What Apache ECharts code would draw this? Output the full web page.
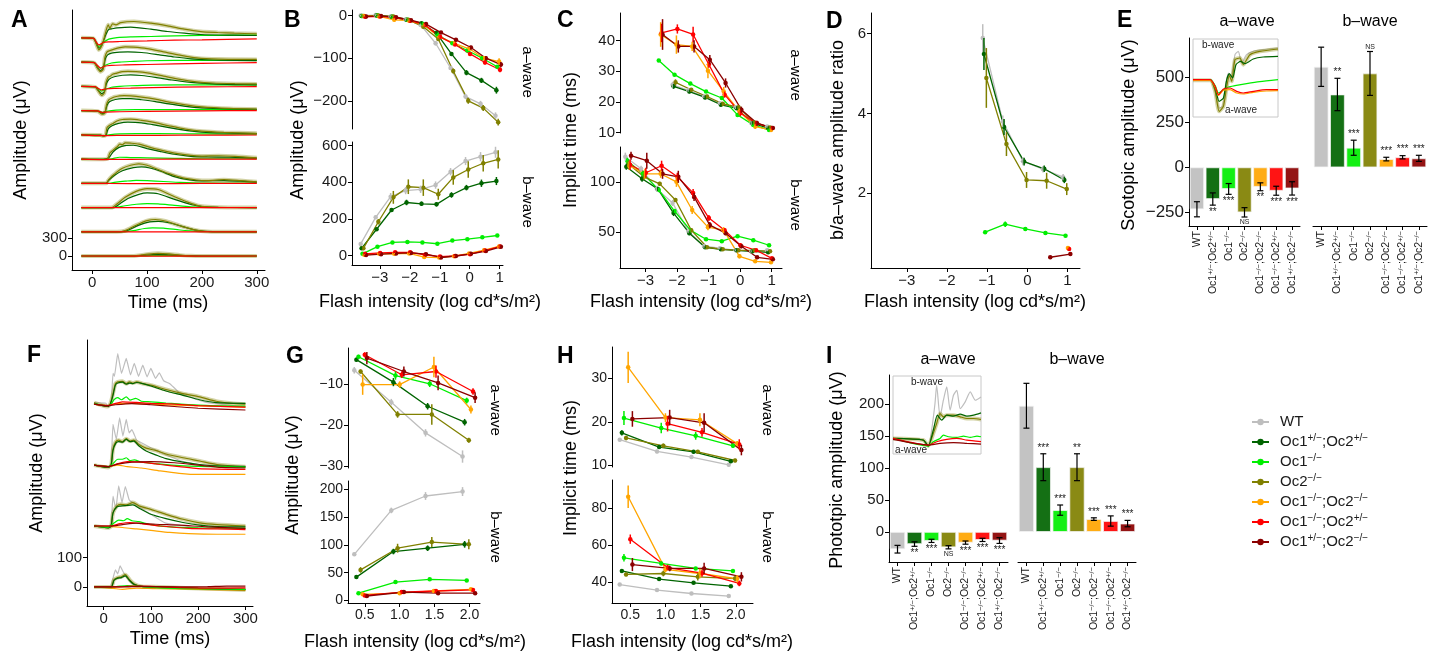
<!DOCTYPE html>
<html><head><meta charset="utf-8">
<script src="https://cdn.jsdelivr.net/npm/echarts@6/dist/echarts.min.js"></script>
<style>html,body{margin:0;padding:0;background:#fff}#c{width:1432px;height:657px}</style>
</head><body><div id="c"></div>
<script>
// ================= DATA =================
const GENOTYPES = ['WT','Oc1+/-;Oc2+/-','Oc1-/-','Oc2-/-','Oc1-/-;Oc2-/-','Oc1-/-;Oc2+/-','Oc1+/-;Oc2-/-'];

// Scotopic flash intensities (log cd*s/m2)
const SCOT_X = [-3.55,-3.05,-2.55,-2.05,-1.55,-1.05,-0.55,-0.05,0.45,0.95];
// B: scotopic amplitudes (uV), one row per genotype
const B_AWAVE = [
  [0,1,-2,-9,-22,-65,-123,-190,-207,-235],
  [-1,0,-3,-10,-18,-41,-90,-134,-152,-175],
  [-1,0,-3,-10,-20,-45,-65,-82,-100,-120],
  [-1,0,-2,-10,-26,-55,-130,-200,-217,-250],
  [-1,-2,-10,-12,-22,-50,-65,-78,-100,-108],
  [-3,-2,-5,-12,-22,-50,-68,-90,-110,-127],
  [-2,-1,-4,-11,-20,-40,-57,-75,-100,-115]
];
const B_AWAVE_SE = [
  [2,2,2,3,3,5,5,6,7,8],[1,1,2,2,3,3,4,6,6,8],[1,1,2,2,2,3,3,3,4,4],[2,2,2,3,4,4,6,7,7,8],
  [2,2,4,3,3,3,3,4,5,8],[2,2,2,3,3,3,3,4,5,6],[2,2,2,3,3,3,4,4,5,6]
];
const B_BWAVE = [
  [64,209,322,355,362,385,458,516,540,564],
  [40,144,249,290,283,280,331,371,395,407],
  [10,49,72,75,72,65,82,90,100,110],
  [40,185,318,376,371,335,427,470,504,525],
  [5,10,10,12,-8,-10,-3,12,30,50],
  [10,15,18,18,5,-5,-2,8,28,50],
  [3,8,12,15,8,-10,-2,10,25,48]
];
const B_BWAVE_SE = [
  [10,10,20,20,20,20,20,22,25,30],[8,8,10,15,12,12,15,15,20,22],[3,4,5,5,4,5,5,5,6,6],[10,15,35,40,45,30,40,45,45,50],
  [3,3,4,4,4,4,4,4,5,5],[4,4,4,4,4,4,4,4,5,6],[3,3,4,4,4,4,4,4,5,6]
];
// C: implicit times (ms)
const C_AWAVE = [
  [null,null,null,25.6,23.8,21.8,19.6,18.3,13.1,12],
  [null,null,null,25.1,23.4,21.5,19.1,18,13.1,11.5],
  [null,null,33.5,28.9,26,23.4,21.3,15.8,12.5,10.9],
  [null,null,null,26.4,24,21.8,19.4,18.3,13.3,11.7],
  [null,null,42,38.7,38.1,30.2,23.4,16.9,12,10.9],
  [null,null,42.5,43.8,42,32.2,22.4,16.4,13.1,11.5],
  [null,null,42,38.1,38.1,33.8,26.2,17.5,13.1,11.5]
];
const C_AWAVE_SE = [
  [0,0,0,1,0.5,0.5,0.5,0.6,0.6,0.5],[0,0,0,0.8,0.6,0.6,0.6,0.6,0.6,0.5],[0,0,0.4,0.5,0.5,0.5,0.5,0.6,0.5,0.5],
  [0,0,0,1,0.6,0.6,0.6,0.6,0.6,0.5],[0,0,4,3,1.5,2.5,1.5,1,0.8,0.5],[0,0,3,1.5,2.5,1,1,1,0.8,0.5],[0,0,5,2,2,1.5,1.5,1,0.8,0.5]
];
const C_BWAVE = [
  [125,113,93,79,51,36,34,32,31,32],
  [115,103,93,69,49,35,33,32,31,30],
  [121,108,92,71,52,43,41,46,42,37],
  [118,105,98,82,52,35,33,32,32,31],
  [116,108,108,100,72,55,52,26,21,20],
  [117,109,116,105,89,64,52,37,32,24],
  [126,121,108,105,85,57,49,36,25,23]
];
const C_BWAVE_SE = [
  [4,3,3,3,2,2,1,1,1,1],[3,3,2,3,2,1,1,1,1,1],[3,3,2,2,2,1,1,1,1,1],[3,3,2,2,2,1,1,1,1,1],
  [4,5,4,5,4,3,3,2,1,1],[5,5,5,4,4,3,2,2,1,1],[4,8,5,6,4,3,2,2,1,1]
];
// D: b/a-wave ratio
const D_X = [-1.02,-0.52,-0.02,0.48,0.98];
const D_RATIO = [
  [5.89,3.8,2.8,2.6,2.4],[5.49,3.66,2.79,2.61,2.33],[1.02,1.22,1.1,1.0,0.93],[4.89,3.23,2.33,2.31,2.1],
  [null,null,null,null,0.62],[null,null,null,null,0.6],[null,null,null,0.39,0.47]
];
const D_SE = [
  [0.35,0.15,0.1,0.08,0.08],[0.4,0.2,0.1,0.08,0.08],[0.04,0.07,0.04,0.05,0.04],[0.75,0.3,0.2,0.2,0.15],
  [0,0,0,0,0.03],[0,0,0,0,0.03],[0,0,0,0.02,0.03]
];
// E: scotopic bars
const E_AWAVE = [-233,-176,-120,-250,-108,-130,-117];
const E_AWAVE_SE = [42,34,30,26,22,25,37];
const E_AWAVE_SIG = ['','**','***','NS','**','***','***'];
const E_BWAVE = [559,405,109,522,46,56,50];
const E_BWAVE_SE = [109,90,42,122,10,9,17];
const E_BWAVE_SIG = ['','**','***','NS','***','***','***'];
// Photopic intensities
const PHOT_X = [0.44,0.97,1.46,1.99];
const G_AWAVE = [
  [-6.5,-14.3,-21.8,-27.6],[-3.9,-9.4,-15.3,-19.2],[-3.2,-7.8,-9.8,-13.9],[-6.8,-17.3,-17.3,-23.6],
  [-10,-10,-5.7,-16.1],[-2.7,-7.6,-6.8,-11.7],[-3.5,-6.8,-9.6,-13.2]
];
const G_AWAVE_SE = [
  [0.8,0.8,0.9,1.5],[0.5,1,0.8,0.8],[0.5,1,0.8,0.7],[0.5,0.8,2.5,0.6],[2.5,0.8,2.5,1],[0.6,0.8,1.5,0.8],[1.5,1.2,1.8,1.3]
];
const G_BWAVE = [
  [83,162,188,196],[42,88,94,101],[13,33,38,36],[55,94,105,101],[11,13,17,20],[9,15,17,19],[8,15,13,13]
];
const G_BWAVE_SE = [
  [3,5,7,8],[3,5,5,6],[2,3,2,2],[5,8,9,9],[2,2,2,2],[2,2,2,2],[2,2,2,2]
];
const H_AWAVE = [
  [15.9,13.2,11.9,10.1],[17.5,14.2,13.1,10.9],[20.9,18.6,16.8,14.5],[16.3,14.5,13.1,11.1],
  [32.6,21,20.5,15],[null,19.6,17.6,14.8],[20.7,21,19.8,13.5]
];
const H_AWAVE_SE = [
  [0.4,0.4,0.4,0.4],[0.6,0.4,0.4,0.4],[1.6,1.2,0.9,0.5],[0.5,0.5,0.4,0.4],[3.6,1,1.5,0.6],[0,1.8,1,1.2],[1.8,1.8,2.2,1.2]
];
const H_BWAVE = [
  [38.9,35.9,34.1,32.7],[46.2,41.8,39.8,38],[53.2,50.2,47.5,46.2],[44.3,44.8,43,42.1],
  [85.9,47,44.8,42],[63.2,48,45,39.5],[49.6,47.5,47.5,43]
];
const H_BWAVE_SE = [
  [0.5,0.5,0.5,0.5],[0.6,0.6,0.5,0.5],[2,1,0.8,0.8],[1,1.5,2,1.5],[6,1.5,2.5,2],[2.5,1.5,2,1.5],[3.5,1.5,3,2.5]
];
// I: photopic bars
const I_AWAVE = [-27,-19,-14,-24,-16.7,-12.5,-13.5];
const I_AWAVE_SE = [6,3.5,2.5,2.5,2.5,2.5,4.5];
const I_AWAVE_SIG = ['','**','***','NS','***','***','***'];
const I_BWAVE = [197,101,34,101,20,17,13];
const I_BWAVE_SE = [35,21,8,21,2,8,5];
const I_BWAVE_SIG = ['','***','***','**','***','***','***'];

// A: scotopic ERG traces [ms, uV], dimmest (index 0) to brightest
const A_OLIVE = [
 [[-20,0],[60,0],[80,5],[100,30],[120,45],[140,35],[160,15],[180,3],[200,0],[300,0]],
 [[-20,0],[45,0],[60,20],[80,110],[100,185],[115,205],[135,175],[160,100],[185,35],[210,5],[250,0],[300,0]],
 [[-20,0],[35,0],[45,60],[60,170],[80,270],[100,315],[120,300],[150,180],[180,70],[200,20],[230,5],[300,0]],
 [[-20,0],[25,0],[30,60],[35,110],[40,150],[45,190],[55,250],[70,300],[85,325],[100,300],[120,230],[140,160],[165,90],[190,55],[210,45],[240,60],[270,45],[300,25]],
 [[-20,0],[20,-5],[28,5],[32,100],[37,140],[42,180],[46,210],[50,250],[55,240],[60,270],[70,265],[85,250],[100,210],[120,160],[150,100],[180,60],[200,50],[230,55],[260,45],[300,20]],
 [[-20,0],[15,-5],[20,-20],[24,-10],[27,120],[32,160],[38,190],[45,230],[55,255],[70,260],[90,240],[110,210],[140,150],[170,95],[200,60],[240,40],[300,25]],
 [[-20,0],[10,-10],[18,-60],[23,-40],[26,100],[30,180],[36,210],[42,230],[50,245],[58,250],[70,245],[90,225],[115,190],[140,140],[170,95],[200,60],[250,35],[300,25]],
 [[-20,0],[5,-10],[12,-90],[17,-150],[22,-110],[25,60],[29,150],[33,170],[37,200],[45,220],[55,245],[65,250],[80,245],[100,225],[130,170],[160,115],[190,75],[220,55],[260,45],[300,40]],
 [[-20,0],[3,-10],[10,-110],[15,-160],[20,-120],[23,80],[27,170],[32,190],[40,215],[50,240],[60,255],[75,250],[100,225],[130,170],[160,115],[190,70],[230,50],[300,44]],
 [[-20,0],[2,-10],[8,-120],[12,-200],[18,-117],[24,80],[29,217],[32,161],[37,233],[43,217],[52,255],[76,272],[107,244],[137,200],[168,144],[198,105],[229,89],[259,78],[300,67]]
];
const A_DKGREEN = [
 [[-20,0],[70,0],[90,10],[110,25],[125,28],[145,18],[170,5],[200,0],[300,0]],
 [[-20,0],[50,0],[65,25],[85,110],[105,165],[120,175],[140,150],[165,85],[190,25],[220,2],[300,0]],
 [[-20,0],[38,0],[50,60],[65,150],[85,220],[100,244],[120,230],[150,135],[180,50],[200,15],[230,3],[300,0]],
 [[-20,0],[25,0],[30,50],[40,130],[55,210],[75,260],[90,272],[105,255],[125,200],[150,110],[175,60],[200,40],[240,45],[270,35],[300,20]],
 [[-20,0],[20,-5],[30,20],[38,120],[48,190],[60,225],[75,230],[100,175],[125,125],[150,80],[180,45],[210,35],[250,30],[300,15]],
 [[-20,0],[15,-5],[20,-18],[25,-5],[29,100],[36,150],[48,190],[65,210],[90,200],[110,170],[140,120],[170,75],[200,45],[240,30],[300,20]],
 [[-20,0],[10,-8],[18,-50],[23,-35],[27,90],[32,150],[42,185],[55,200],[70,200],[90,180],[115,150],[140,110],[170,70],[200,45],[250,28],[300,20]],
 [[-20,0],[5,-8],[12,-80],[17,-120],[22,-90],[26,50],[31,120],[40,160],[55,185],[70,190],[90,180],[115,150],[145,105],[180,65],[220,40],[260,30],[300,25]],
 [[-20,0],[3,-8],[10,-100],[15,-140],[20,-100],[24,60],[28,120],[35,150],[50,165],[65,170],[90,160],[120,125],[150,85],[180,55],[220,35],[300,25]],
 [[-20,0],[2,-8],[8,-110],[12,-172],[18,-110],[25,60],[30,140],[35,150],[45,165],[70,178],[107,144],[137,106],[168,78],[198,56],[260,44],[300,39]]
];
const A_LGREEN = [
 [[-20,0],[80,0],[110,8],[130,8],[160,3],[200,0],[300,0]],
 [[-20,0],[55,0],[75,20],[95,55],[110,65],[130,60],[160,30],[190,8],[220,0],[300,0]],
 [[-20,0],[40,0],[60,30],[80,55],[100,65],[120,60],[150,35],[180,12],[210,2],[300,0]],
 [[-20,0],[28,0],[40,15],[60,35],[80,50],[100,45],[130,30],[160,15],[200,5],[300,5]],
 [[-20,0],[22,-5],[35,5],[50,30],[70,25],[100,20],[150,12],[200,5],[300,5]],
 [[-20,0],[20,-15],[30,0],[50,15],[80,20],[120,20],[200,15],[300,10]],
 [[-20,0],[10,-5],[18,-30],[25,-15],[35,0],[55,10],[80,15],[120,15],[200,15],[300,15]],
 [[-20,0],[5,-5],[12,-50],[17,-80],[24,-50],[35,-15],[50,0],[70,10],[110,20],[200,25],[300,25]],
 [[-20,0],[3,-5],[10,-70],[15,-100],[22,-60],[35,-15],[50,0],[70,10],[100,22],[200,30],[300,30]],
 [[-20,0],[2,-5],[8,-90],[12,-144],[20,-78],[30,-22],[45,5],[70,17],[107,22],[150,33],[200,39],[300,44]]
];
const A_RED = [
 [[-20,0],[100,-3],[200,-2],[300,0]],
 [[-20,0],[100,-3],[200,-2],[300,-3]],
 [[-20,0],[100,-3],[300,-3]],
 [[-20,0],[30,-3],[100,-5],[200,-3],[300,-2]],
 [[-20,0],[22,-8],[40,-5],[100,-3],[200,0],[300,0]],
 [[-20,0],[20,-15],[30,-12],[60,-10],[120,-8],[200,-5],[300,-3]],
 [[-20,0],[10,-5],[18,-30],[25,-25],[50,-20],[100,-12],[200,-5],[300,0]],
 [[-20,0],[5,-5],[12,-40],[17,-60],[24,-45],[40,-35],[70,-30],[110,-20],[200,-10],[300,-5]],
 [[-20,0],[3,-5],[10,-60],[15,-100],[22,-70],[35,-55],[60,-48],[100,-40],[200,-20],[300,-10]],
 [[-20,0],[2,-5],[8,-80],[12,-117],[20,-78],[30,-67],[50,-61],[100,-50],[150,-39],[200,-33],[300,-17]]
];
const A_STEP_UV = 404;

// F: photopic ERG traces [ms, uV], dimmest to brightest
const F_WT = [
 [[-20,0],[14,0],[20,30],[25,58],[30,45],[35,72],[42,50],[50,30],[60,12],[75,2],[120,0],[200,-3],[300,-3]],
 [[-20,0],[10,-5],[16,5],[20,102],[26,57],[32,137],[39,80],[46,135],[54,90],[62,80],[80,60],[100,40],[130,11],[200,-6],[300,-11]],
 [[-20,0],[10,-8],[16,5],[20,139],[27,88],[34,161],[41,99],[48,156],[54,110],[60,121],[70,85],[80,76],[100,59],[130,36],[165,14],[200,2],[300,-3]],
 [[-20,5],[5,3],[10,-10],[16,0],[20,105],[23,95],[30,173],[38,105],[48,156],[57,100],[65,139],[74,95],[83,133],[92,93],[100,122],[110,88],[118,107],[127,80],[140,70],[160,40],[190,20],[220,5],[300,-10]]
];
const F_OLIVE = [
 [[-20,0],[16,0],[22,25],[30,32],[38,35],[46,42],[55,25],[65,10],[80,2],[120,0],[200,-5],[300,-10]],
 [[-20,0],[10,-6],[16,0],[20,45],[28,68],[36,74],[48,72],[62,80],[76,68],[100,57],[132,40],[168,23],[203,11],[240,5],[300,0]],
 [[-20,0],[10,-8],[16,0],[20,55],[26,80],[32,85],[40,80],[48,90],[56,82],[64,85],[75,70],[90,58],[110,50],[132,38],[168,25],[203,14],[240,2],[300,-6]],
 [[-20,5],[8,-8],[14,0],[20,36],[25,70],[30,76],[40,78],[48,70],[55,76],[62,72],[70,76],[83,70],[100,65],[132,50],[168,36],[203,25],[238,10],[270,3],[300,0]]
];
const F_DKGREEN = [
 [[-20,0],[16,0],[22,22],[30,30],[38,32],[46,38],[55,22],[65,8],[80,2],[120,0],[200,-5],[300,-8]],
 [[-20,0],[10,-6],[16,0],[20,45],[28,65],[36,68],[48,70],[62,72],[76,60],[100,40],[132,25],[168,12],[203,3],[240,-2],[300,-3]],
 [[-20,0],[10,-8],[16,0],[20,50],[26,75],[32,80],[40,78],[48,88],[56,80],[64,82],[75,65],[90,48],[110,35],[132,22],[168,10],[203,2],[240,-3],[300,-5]],
 [[-20,3],[8,-8],[14,0],[20,30],[25,65],[30,72],[40,75],[48,68],[55,72],[62,70],[70,74],[83,70],[100,62],[132,45],[168,30],[203,15],[238,5],[300,3]]
];
const F_LGREEN = [
 [[-20,0],[20,0],[35,3],[50,5],[80,2],[120,-3],[200,-6],[300,-8]],
 [[-20,0],[10,-4],[22,10],[32,20],[42,18],[50,25],[60,18],[75,15],[100,5],[140,-3],[200,-6],[300,-8]],
 [[-20,0],[10,-5],[20,5],[30,20],[40,20],[48,25],[56,15],[65,18],[80,10],[110,5],[160,-2],[220,-5],[300,-7]],
 [[-20,2],[8,-5],[16,0],[22,15],[30,22],[38,15],[48,25],[56,14],[68,20],[80,10],[100,8],[132,4],[200,-3],[300,-7]]
];
const F_ORANGE = [
 [[-20,0],[20,-5],[40,-8],[70,-4],[110,-6],[200,-8],[300,-12]],
 [[-20,0],[15,-2],[40,-5],[70,-10],[100,-15],[140,-22],[180,-26],[240,-28],[300,-28]],
 [[-20,0],[10,-5],[30,0],[50,-5],[80,-10],[120,-20],[160,-28],[200,-32],[300,-32]],
 [[-20,0],[8,-5],[30,2],[60,3],[100,0],[150,-3],[200,-6],[300,-10]]
];
const F_RED = [
 [[-20,0],[30,0],[60,3],[100,2],[160,-2],[240,-4],[300,-3]],
 [[-20,0],[15,0],[35,8],[55,12],[80,8],[120,0],[180,-8],[240,-10],[300,-12]],
 [[-20,0],[10,-5],[30,5],[50,12],[80,10],[120,2],[160,-5],[200,-12],[300,-15]],
 [[-20,0],[8,-5],[20,0],[40,8],[70,6],[100,3],[150,0],[200,-5],[300,-10]]
];
const F_DARKRED = [
 [[-20,0],[40,0],[80,2],[150,0],[220,1],[260,3],[300,3]],
 [[-20,0],[15,0],[40,5],[70,10],[110,6],[160,3],[220,-3],[300,-8]],
 [[-20,0],[10,-5],[30,3],[60,10],[100,12],[150,8],[200,0],[250,-8],[300,-10]],
 [[-20,0],[8,-6],[25,-2],[60,2],[100,-2],[150,-8],[200,-14],[300,-20]]
];
const F_STEP_UV = 208;

// Inset traces (arbitrary inset units)
const EI_WT = [[0,0],[52,0],[67,-30],[79,-85],[90,-80],[100,-10],[107,20],[115,5],[127,75],[137,85],[147,50],[162,75],[182,85],[212,90],[257,95]];
const EI_OLIVE = [[0,-2],[52,-2],[67,-35],[79,-95],[92,-80],[102,-20],[110,12],[117,-5],[127,60],[142,65],[152,45],[172,75],[202,85],[257,92]];
const EI_DKGREEN = [[0,0],[52,0],[67,-25],[79,-65],[92,-55],[102,0],[110,18],[120,5],[130,45],[144,55],[157,48],[182,62],[212,68],[257,70]];
const EI_LGREEN = [[0,0],[52,0],[67,-18],[77,-40],[92,-30],[107,-22],[127,-18],[162,-12],[202,-6],[257,0]];
const EI_ORANGE = [[0,-2],[52,-2],[67,-22],[77,-47],[92,-32],[112,-30],[132,-40],[152,-43],[182,-38],[222,-34],[257,-33]];
const EI_RED = [[0,0],[52,0],[67,-20],[77,-45],[92,-28],[112,-25],[132,-35],[152,-40],[182,-35],[222,-30],[257,-30]];
const II_WT = [[0,3],[90,-2],[105,-22],[115,28],[125,108],[130,163],[140,68],[150,118],[160,158],[170,88],[180,133],[190,148],[200,93],[215,113],[230,143],[245,118],[262,128]];
const II_OLIVE = [[0,3],[90,-2],[105,-20],[120,18],[130,48],[140,78],[150,68],[160,73],[180,73],[200,68],[220,63],[240,63],[262,60]];
const II_DKGREEN = [[0,3],[90,-2],[105,-20],[120,28],[132,73],[145,58],[160,73],[180,70],[200,76],[220,70],[240,73],[262,80]];
const II_LGREEN = [[0,3],[105,-20],[120,-7],[140,3],[150,13],[165,8],[190,6],[210,10],[230,6],[250,10],[262,8]];
const II_RED = [[0,3],[105,-17],[130,-7],[160,0],[190,3],[220,-2],[262,-7]];
const II_DARKRED = [[0,0],[105,-17],[140,-12],[180,-10],[220,-12],[262,-14]];

// ================= STYLE / LAYOUT =================
const FONT = '"Liberation Sans", Arial, Helvetica, sans-serif';
const COLORS = ['#BEBEBE','#006400','#00EE00','#808000','#FFA500','#FF0000','#8B0000'];
const DODGE = [-0.09,-0.06,-0.03,0,0.03,0.06,0.09];
const WT=0, DKG=1, LG=2, OL=3, OR=4, RD=5, DR=6;

const grids = [], xAxes = [], yAxes = [], series = [], graphics = [];
const minus = v => String(v).replace('-', '\u2212');
function toRich(n) {
  return n.replace(/([+\-])\/([+\-])/g, (m, a, b) => '{s|' + (a === '-' ? '\u2212' : '+') + '/' + (b === '-' ? '\u2212' : '+') + '}');
}
function vAxis(min, max, ticks, o) {
  o = o || {};
  return {
    type: 'value', min, max,
    axisLine: {show: true, onZero: false, lineStyle: {color: '#000', width: 1}},
    axisTick: {show: true, length: 4, customValues: ticks, lineStyle: {color: '#000', width: 1}},
    axisLabel: {show: true, customValues: ticks, fontSize: o.fs || 15, color: '#1a1a1a', fontFamily: FONT, margin: o.margin || 5, formatter: o.fmt || minus},
    splitLine: {show: false}
  };
}
function hAxis(min, max) { return {type: 'value', min, max, show: false, splitLine: {show: false}}; }
function catAxis() {
  return {
    type: 'category', data: GENOTYPES,
    axisLine: {show: true, onZero: false, lineStyle: {color: '#000', width: 1}},
    axisTick: {show: true, alignWithLabel: true, length: 4, lineStyle: {color: '#000'}},
    axisLabel: {rotate: 90, interval: 0, fontSize: 10.5, color: '#1a1a1a', fontFamily: FONT, margin: 5,
      formatter: n => toRich(n), rich: {s: {fontSize: 7.5, verticalAlign: 'top', fontFamily: FONT, color: '#1a1a1a'}}},
    splitLine: {show: false}
  };
}
function addPanel(rect, x, y) {
  const i = grids.length;
  grids.push(Object.assign({containLabel: false}, rect));
  xAxes.push(Object.assign({gridIndex: i}, x));
  yAxes.push(Object.assign({gridIndex: i}, y));
  return i;
}
function errRender(params, api) {
  const x = api.value(0), a = api.coord([x, api.value(1)]), b = api.coord([x, api.value(2)]);
  return {type: 'line', shape: {x1: a[0], y1: a[1], x2: b[0], y2: b[1]}, style: {stroke: COLORS[api.value(3)], lineWidth: 1.5}};
}
function pointPanel(ai, xs, rows, se) {
  const errs = [];
  rows.forEach((row, gi) => {
    const pts = [];
    row.forEach((v, i) => {
      if (v == null) return;
      const x = xs[i] + DODGE[gi];
      pts.push([x, v]);
      if (se && se[gi][i]) errs.push([x, v - se[gi][i], v + se[gi][i], gi]);
    });
    series.push({type: 'line', name: GENOTYPES[gi], xAxisIndex: ai, yAxisIndex: ai, data: pts, symbol: 'circle', symbolSize: 4.5,
      showSymbol: true, lineStyle: {color: COLORS[gi], width: 1.3}, itemStyle: {color: COLORS[gi]}, silent: true, z: 3});
  });
  series.push({type: 'custom', xAxisIndex: ai, yAxisIndex: ai, data: errs, renderItem: errRender, silent: true, z: 4, encode: {x: 0, y: [1, 2]}});
}
function barPanel(ai, vals, se, sig, below) {
  series.push({type: 'bar', xAxisIndex: ai, yAxisIndex: ai, barWidth: '90%', silent: true,
    data: vals.map((v, i) => ({value: v, itemStyle: {color: COLORS[i], opacity: 0.92, borderColor: '#f4f4f4', borderWidth: 0.8}}))});
  series.push({type: 'custom', xAxisIndex: ai, yAxisIndex: ai, silent: true, z: 5,
    data: vals.map((v, i) => [i, v - se[i], v + se[i]]),
    renderItem: function (params, api) {
      const c = api.value(0), a = api.coord([c, api.value(1)]), b = api.coord([c, api.value(2)]), w = 3;
      const ch = [
        {type: 'line', shape: {x1: a[0], y1: a[1], x2: b[0], y2: b[1]}, style: {stroke: '#000', lineWidth: 1.2}},
        {type: 'line', shape: {x1: a[0] - w, y1: a[1], x2: a[0] + w, y2: a[1]}, style: {stroke: '#000', lineWidth: 1.2}},
        {type: 'line', shape: {x1: b[0] - w, y1: b[1], x2: b[0] + w, y2: b[1]}, style: {stroke: '#000', lineWidth: 1.2}}
      ];
      const s = sig[params.dataIndex];
      if (s) ch.push({type: 'text', x: a[0], y: below ? a[1] + 2 : b[1] - 1,
        style: {text: s, fontSize: s === 'NS' ? 7 : 10, fontFamily: FONT, fill: '#222', align: 'center', verticalAlign: below ? 'top' : 'bottom'}});
      return {type: 'group', children: ch};
    }});
}
function traceLine(ai, pts, gi, shift, band, sm) {
  series.push({type: 'line', xAxisIndex: ai, yAxisIndex: ai, data: pts.map(p => [p[0], p[1] + shift]),
    showSymbol: false, symbol: 'none', smooth: sm == null ? 0.25 : sm, silent: true, z: 2,
    lineStyle: {color: COLORS[gi], width: band ? 4 : 1.2, opacity: band ? 0.35 : 1}});
}
function txt(text, x, y, o) {
  o = o || {};
  graphics.push({type: 'text', x, y, rotation: o.rot || 0, silent: true, z: 100,
    style: {text, fontSize: o.fs || 18, fontFamily: FONT, fontWeight: o.bold ? 'bold' : 'normal', fill: o.fill || '#000',
      align: o.align || 'center', verticalAlign: o.va || 'middle'}});
}

// ================= PANELS =================
const pA = addPanel({left: 72, top: 10, width: 193, height: 260}, vAxis(-37, 315, [0, 100, 200, 300]), vAxis(-233, 4100, [0, 300]));
const pB1 = addPanel({left: 352, top: 10, width: 151, height: 119}, hAxis(-3.93, 1.11), vAxis(-266, 13, [-200, -100, 0]));
const pB2 = addPanel({left: 352, top: 142, width: 151, height: 123}, vAxis(-3.93, 1.11, [-3, -2, -1, 0, 1]), vAxis(-51, 620, [0, 200, 400, 600]));
const pC1 = addPanel({left: 620, top: 13, width: 162, height: 120}, hAxis(-3.81, 1.33), vAxis(9.9, 49, [10, 20, 30, 40]));
const pC2 = addPanel({left: 620, top: 147, width: 162, height: 121}, vAxis(-3.81, 1.33, [-3, -2, -1, 0, 1]), vAxis(14.4, 134.6, [50, 100]));
const pD = addPanel({left: 871, top: 13, width: 209, height: 255}, vAxis(-3.89, 1.31, [-3, -2, -1, 0, 1]), vAxis(0.12, 6.52, [2, 4, 6]));
const pEa = addPanel({left: 1189, top: 38, width: 111, height: 188}, catAxis(), vAxis(-326, 719, [-250, 0, 250, 500], {fs: 17}));
const pEb = addPanel({left: 1313, top: 38, width: 114, height: 188}, catAxis(), {type: 'value', min: -326, max: 719, show: false, splitLine: {show: false}});
const pEi = addPanel({left: 1193, top: 39, width: 85, height: 78, show: true, borderColor: '#c8c8c8', borderWidth: 1, backgroundColor: '#fff'}, hAxis(0, 257), hAxis(-112, 122));
const pF = addPanel({left: 87, top: 340, width: 166, height: 266}, vAxis(-35, 316, [0, 100, 200, 300]), vAxis(-65, 843, [0, 100]));
const fmt1 = v => v.toFixed(1);
const pG1 = addPanel({left: 348, top: 348, width: 132, height: 120}, hAxis(0.26, 2.15), vAxis(-30.4, -1.05, [-30, -20, -10], {fs: 14}));
const pG2 = addPanel({left: 348, top: 481, width: 132, height: 122}, vAxis(0.26, 2.15, [0.5, 1, 1.5, 2], {fmt: fmt1, fs: 14}), vAxis(-4.6, 215, [0, 50, 100, 150, 200], {fs: 14}));
const pH1 = addPanel({left: 612, top: 347, width: 141, height: 120}, hAxis(0.24, 2.245), vAxis(9.6, 37.3, [10, 20, 30], {fs: 14}));
const pH2 = addPanel({left: 612, top: 480, width: 141, height: 123}, vAxis(0.24, 2.245, [0.5, 1, 1.5, 2], {fmt: fmt1, fs: 14}), vAxis(29, 94.9, [40, 60, 80], {fs: 14}));
const pIa = addPanel({left: 889, top: 375, width: 119, height: 187}, catAxis(), vAxis(-47, 245, [0, 50, 100, 150, 200], {fs: 15}));
const pIb = addPanel({left: 1018, top: 375, width: 118, height: 187}, catAxis(), {type: 'value', min: -47, max: 245, show: false, splitLine: {show: false}});
const pIi = addPanel({left: 893, top: 376, width: 88, height: 78, show: true, borderColor: '#c8c8c8', borderWidth: 1, backgroundColor: '#fff'}, hAxis(0, 262), hAxis(-44, 191));

// ----- point/line panels first (legend takes symbols from these)
pointPanel(pB1, SCOT_X, B_AWAVE, B_AWAVE_SE);
pointPanel(pB2, SCOT_X, B_BWAVE, B_BWAVE_SE);
pointPanel(pC1, SCOT_X, C_AWAVE, C_AWAVE_SE);
pointPanel(pC2, SCOT_X, C_BWAVE, C_BWAVE_SE);
pointPanel(pD, D_X, D_RATIO, D_SE);
pointPanel(pG1, PHOT_X, G_AWAVE, G_AWAVE_SE);
pointPanel(pG2, PHOT_X, G_BWAVE, G_BWAVE_SE);
pointPanel(pH1, PHOT_X, H_AWAVE, H_AWAVE_SE);
pointPanel(pH2, PHOT_X, H_BWAVE, H_BWAVE_SE);

// ----- traces A
for (let k = 0; k < 10; k++) {
  const s = k * A_STEP_UV;
  traceLine(pA, A_OLIVE[k], OL, s, true);
  traceLine(pA, A_LGREEN[k], LG, s);
  traceLine(pA, A_DKGREEN[k], DKG, s);
  traceLine(pA, A_OLIVE[k], OL, s);
  traceLine(pA, A_RED[k], RD, s);
}
// ----- traces F
for (let k = 0; k < 4; k++) {
  const s = k * F_STEP_UV;
  traceLine(pF, F_WT[k], WT, s, false, 0.1);
  traceLine(pF, F_ORANGE[k], OR, s);
  traceLine(pF, F_OLIVE[k], OL, s, true);
  traceLine(pF, F_OLIVE[k], OL, s);
  traceLine(pF, F_DKGREEN[k], DKG, s);
  traceLine(pF, F_LGREEN[k], LG, s);
  traceLine(pF, F_RED[k], RD, s);
  traceLine(pF, F_DARKRED[k], DR, s);
}
// ----- insets
traceLine(pEi, EI_WT, WT, 0, false, 0.2);
traceLine(pEi, EI_OLIVE, OL, 0, true, 0.2);
traceLine(pEi, EI_OLIVE, OL, 0, false, 0.2);
traceLine(pEi, EI_DKGREEN, DKG, 0, false, 0.2);
traceLine(pEi, EI_LGREEN, LG, 0, false, 0.2);
traceLine(pEi, EI_ORANGE, OR, 0, false, 0.2);
traceLine(pEi, EI_RED, RD, 0, false, 0.2);
traceLine(pIi, II_WT, WT, 0, false, 0.2);
traceLine(pIi, II_OLIVE, OL, 0, true, 0.2);
traceLine(pIi, II_OLIVE, OL, 0, false, 0.2);
traceLine(pIi, II_DKGREEN, DKG, 0, false, 0.2);
traceLine(pIi, II_LGREEN, LG, 0, false, 0.2);
traceLine(pIi, II_RED, RD, 0, false, 0.2);
traceLine(pIi, II_DARKRED, DR, 0, false, 0.2);

// ----- bars
barPanel(pEa, E_AWAVE, E_AWAVE_SE, E_AWAVE_SIG, true);
barPanel(pEb, E_BWAVE, E_BWAVE_SE, E_BWAVE_SIG, false);
barPanel(pIa, I_AWAVE, I_AWAVE_SE, I_AWAVE_SIG, true);
barPanel(pIb, I_BWAVE, I_BWAVE_SE, I_BWAVE_SIG, false);

// ================= TEXT =================
const XT = 'Flash intensity (log cd*s/m\u00B2)';
const UP = Math.PI / 2;
[['A', 11, 21], ['B', 284, 21], ['C', 557, 21], ['D', 826, 22], ['E', 1117, 21],
 ['F', 27, 356], ['G', 286, 357], ['H', 557, 357], ['I', 826, 357]].forEach(l => txt(l[0], l[1], l[2], {fs: 23, bold: true, align: 'left'}));
txt('Amplitude (\u03BCV)', 21, 140, {rot: UP});
txt('Amplitude (\u03BCV)', 298, 140, {rot: UP});
txt('Implicit time (ms)', 571, 140, {rot: UP});
txt('b/a\u2013wave amplitude ratio', 838, 140, {rot: UP});
txt('Scotopic amplitude (\u03BCV)', 1129, 135, {rot: UP});
txt('Amplitude (\u03BCV)', 37, 473, {rot: UP});
txt('Amplitude (\u03BCV)', 293, 475, {rot: UP});
txt('Implicit time (ms)', 571, 468, {rot: UP});
txt('Phototpic amplitude (\u03BCV)', 837, 470, {rot: UP});
txt('Time (ms)', 168, 303);
txt(XT, 430, 302);
txt(XT, 701, 302);
txt(XT, 975, 302);
txt('Time (ms)', 170, 639);
txt(XT, 415, 642);
txt(XT, 682, 642);
[[527, 72, 'a'], [527, 202, 'b'], [795, 75, 'a'], [795, 205, 'b'], [495, 410, 'a'], [495, 537, 'b'], [767, 410, 'a'], [767, 537, 'b']]
  .forEach(s => txt(s[2] + '\u2013wave', s[0], s[1], {rot: -UP, fs: 15}));
txt('a\u2013wave', 1247, 22, {fs: 16});
txt('b\u2013wave', 1370, 22, {fs: 16});
txt('a\u2013wave', 948, 360, {fs: 16});
txt('b\u2013wave', 1077, 360, {fs: 16});
txt('b-wave', 1202, 45, {fs: 10, align: 'left', fill: '#222'});
txt('a-wave', 1241, 110, {fs: 10, fill: '#222'});
txt('b-wave', 927, 382, {fs: 10, fill: '#222'});
txt('a-wave', 911, 450, {fs: 10, fill: '#222'});

// ================= CHART =================
const chart = echarts.init(document.getElementById('c'), null, {renderer: 'canvas', width: 1432, height: 657});
chart.setOption({
  animation: false,
  backgroundColor: '#fff',
  grid: grids, xAxis: xAxes, yAxis: yAxes, series: series, graphic: graphics,
  legend: {
    data: GENOTYPES, orient: 'vertical', left: 1246, top: 408, itemWidth: 17, itemHeight: 8, itemGap: 2,
    selectedMode: false, formatter: n => toRich(n),
    textStyle: {fontSize: 15, lineHeight: 18, color: '#1a1a1a', fontFamily: FONT, padding: [0, 0, 0, 6],
      rich: {s: {fontSize: 10, verticalAlign: 'top', fontFamily: FONT, color: '#1a1a1a'}}}
  }
});
</script>
</body></html>
